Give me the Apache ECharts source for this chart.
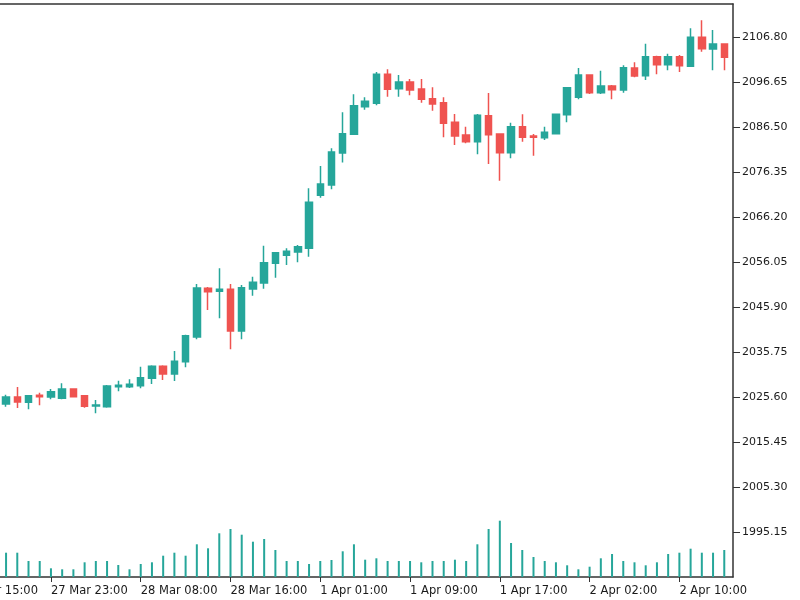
<!DOCTYPE html>
<html>
<head>
<meta charset="utf-8">
<script src="https://cdn.jsdelivr.net/npm/echarts@6/dist/echarts.min.js"></script>
<style>html,body{margin:0;padding:0;background:#fff;}#c{width:800px;height:600px;}</style>
</head>
<body>
<div id="c"></div>
<script>
// Hourly candle times (index 0..64)
var times = [
 '27 Mar 19:00','27 Mar 20:00','27 Mar 21:00','27 Mar 22:00','27 Mar 23:00',
 '28 Mar 01:00','28 Mar 02:00','28 Mar 03:00','28 Mar 04:00','28 Mar 05:00','28 Mar 06:00','28 Mar 07:00','28 Mar 08:00',
 '28 Mar 09:00','28 Mar 10:00','28 Mar 11:00','28 Mar 12:00','28 Mar 13:00','28 Mar 14:00','28 Mar 15:00','28 Mar 16:00',
 '28 Mar 17:00','28 Mar 18:00','28 Mar 19:00','28 Mar 20:00','28 Mar 21:00','28 Mar 22:00','28 Mar 23:00',
 '1 Apr 01:00','1 Apr 02:00','1 Apr 03:00','1 Apr 04:00','1 Apr 05:00','1 Apr 06:00','1 Apr 07:00','1 Apr 08:00','1 Apr 09:00',
 '1 Apr 10:00','1 Apr 11:00','1 Apr 12:00','1 Apr 13:00','1 Apr 14:00','1 Apr 15:00','1 Apr 16:00','1 Apr 17:00',
 '1 Apr 18:00','1 Apr 19:00','1 Apr 20:00','1 Apr 21:00','1 Apr 22:00','1 Apr 23:00',
 '2 Apr 01:00','2 Apr 02:00','2 Apr 03:00','2 Apr 04:00','2 Apr 05:00','2 Apr 06:00','2 Apr 07:00','2 Apr 08:00','2 Apr 09:00','2 Apr 10:00',
 '2 Apr 11:00','2 Apr 12:00','2 Apr 13:00','2 Apr 14:00'
];
var openV  = [2024.08,2025.66,2024.47,2026.05,2025.66,2025.37,2027.47,2025.96,2023.63,2023.47,2027.99,2027.99,2028.21,2029.88,2032.59,2030.85,2033.62,2039.20,2050.18,2049.50,2049.96,2040.55,2050.03,2051.38,2055.82,2057.62,2058.37,2059.20,2071.16,2073.48,2080.70,2084.92,2091.14,2091.91,2098.45,2095.20,2096.71,2095.14,2092.95,2092.05,2087.62,2084.76,2083.25,2089.11,2084.99,2080.77,2086.63,2084.53,2084.15,2085.05,2089.34,2093.26,2098.29,2094.30,2095.81,2094.91,2099.87,2098.13,2102.42,2100.62,2102.42,2100.25,2106.80,2104.16,2105.29];
var closeV = [2025.66,2024.53,2025.96,2025.73,2026.86,2027.47,2025.73,2023.56,2023.86,2028.14,2028.30,2028.53,2030.02,2032.59,2030.85,2033.71,2039.49,2050.25,2049.41,2049.96,2040.55,2050.32,2051.53,2055.96,2058.21,2058.53,2059.56,2069.58,2073.71,2080.92,2085.05,2091.37,2092.36,2098.45,2095.07,2096.71,2094.91,2092.81,2091.75,2087.40,2084.53,2083.25,2089.20,2084.83,2080.77,2086.63,2084.24,2084.24,2085.37,2089.43,2095.43,2098.29,2094.30,2095.81,2094.98,2099.94,2098.07,2102.42,2100.62,2102.42,2100.39,2106.80,2104.23,2105.29,2102.29];
var lowV   = [2023.47,2023.18,2022.89,2023.79,2025.14,2025.14,2025.60,2023.25,2021.99,2023.25,2026.95,2027.69,2027.63,2028.59,2029.50,2029.27,2032.36,2038.68,2045.29,2043.41,2036.42,2038.68,2048.51,2050.09,2052.57,2055.44,2056.05,2057.31,2070.62,2072.51,2078.56,2084.80,2090.47,2091.46,2093.40,2093.40,2093.71,2092.05,2090.24,2084.24,2082.50,2082.89,2080.41,2078.22,2074.45,2079.50,2083.25,2080.09,2083.63,2084.99,2087.62,2092.81,2094.01,2094.01,2092.81,2094.30,2097.77,2097.17,2098.45,2099.35,2098.97,2100.20,2103.55,2099.35,2099.35];
var highV  = [2026.18,2027.92,2026.00,2026.63,2027.47,2028.75,2027.60,2026.00,2024.99,2028.37,2029.34,2029.65,2032.50,2032.81,2032.81,2036.04,2039.72,2051.15,2050.47,2054.69,2051.15,2050.93,2052.80,2059.79,2058.30,2059.20,2059.95,2072.74,2077.77,2081.76,2089.88,2093.94,2093.26,2098.97,2099.58,2098.29,2097.39,2097.39,2095.52,2093.26,2089.50,2086.63,2089.50,2094.23,2085.10,2087.53,2089.43,2084.99,2086.63,2089.50,2095.50,2099.87,2098.40,2099.26,2096.04,2100.48,2101.16,2105.35,2102.65,2103.10,2102.80,2108.83,2110.63,2108.44,2105.40];
var volumeV = [2430,2430,1600,1600,870,770,770,1470,1600,1600,1200,770,1300,1470,2130,2430,2130,3270,2870,4370,4800,4230,3530,3800,2700,1600,1600,1300,1600,1700,2570,3270,1730,1870,1600,1600,1600,1470,1600,1600,1730,1600,3270,4800,5630,3400,2700,2000,1600,1470,1170,770,1030,1870,2300,1600,1470,1170,1470,2300,2430,2830,2430,2430,2700];
// Axis ticks
var xTickIndex = [-4,4,12,20,28,36,44,52,60];
var xTickLabels = ['27 Mar 15:00','27 Mar 23:00','28 Mar 08:00','28 Mar 16:00','1 Apr 01:00','1 Apr 09:00','1 Apr 17:00','2 Apr 02:00','2 Apr 10:00'];
var yTickValues = [1995.15,2005.30,2015.45,2025.60,2035.75,2045.90,2056.05,2066.20,2076.35,2086.50,2096.65,2106.80];

var UP = '#26a69a', DOWN = '#ef5350', AX = '#333333';
var candleData = openV.map(function(o,i){ return [i, o, closeV[i], lowV[i], highV[i]]; });
var volData = volumeV.map(function(v,i){ return [i, v]; });

var X_MIN = -4, X_MAX = 64.78;
var font = 'DejaVu Sans';

var chart = echarts.init(document.getElementById('c'), null, {renderer:'canvas'});
chart.setOption({
  animation: false,
  backgroundColor: '#ffffff',
  grid: [
    {left: -38.83, width: 771.85, top: 4, height: 573, containLabel: false, outerBoundsMode: 'none'},
    {left: -38.83, width: 771.85, top: 477, height: 100, containLabel: false, outerBoundsMode: 'none'}
  ],
  xAxis: [
    {type:'value', gridIndex:0, min:X_MIN, max:X_MAX, position:'bottom',
     splitLine:{show:false},
     axisLine:{show:true, onZero:false, lineStyle:{color:AX, width:1.5}},
     axisTick:{show:true, length:5, lineStyle:{color:AX, width:1}, customValues:xTickIndex},
     axisLabel:{show:true, align:'left', margin:8, color:'#1a1a1a', fontFamily:font, fontSize:11.5,
       customValues:xTickIndex, showMinLabel:true, showMaxLabel:true,
       formatter:function(v){ var k = xTickIndex.indexOf(Math.round(v)); return k>=0 ? xTickLabels[k] : ''; }}
    },
    {type:'value', gridIndex:0, min:X_MIN, max:X_MAX, position:'top',
     splitLine:{show:false}, axisTick:{show:false}, axisLabel:{show:false},
     axisLine:{show:true, onZero:false, lineStyle:{color:AX, width:1.5}}},
    {type:'value', gridIndex:1, min:X_MIN, max:X_MAX, show:false, splitLine:{show:false}}
  ],
  yAxis: [
    {type:'value', gridIndex:0, position:'right', min:1985.06, max:2114.31, scale:true,
     splitLine:{show:false},
     axisLine:{show:true, onZero:false, lineStyle:{color:AX, width:1.5}},
     axisTick:{show:true, length:7, lineStyle:{color:AX, width:1}, customValues:yTickValues},
     axisLabel:{show:true, margin:9, color:'#1a1a1a', fontFamily:font, fontSize:11,
       customValues:yTickValues, formatter:function(v){ return Number(v).toFixed(2); }}
    },
    {type:'value', gridIndex:1, min:0, max:10000, show:false, splitLine:{show:false}}
  ],
  series: [
    {type:'candlestick', xAxisIndex:0, yAxisIndex:0, data:candleData, barWidth:7,
     encode:{x:0, y:[1,2,3,4]},
     itemStyle:{color:UP, color0:DOWN, borderColor:UP, borderColor0:DOWN, borderWidth:1.5}},
    {type:'bar', xAxisIndex:2, yAxisIndex:1, data:volData, barWidth:2,
     itemStyle:{color:UP}}
  ]
});
</script>
</body>
</html>
